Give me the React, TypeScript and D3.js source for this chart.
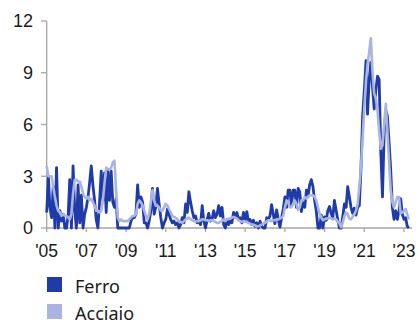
import React from "react";
import * as d3 from "d3";

// Monthly series, January 2005 onward
const ferro: number[] = [
  0.9, 3.0, 1.2, 0.6, 2.4, 0.0, 3.5, 0.0, 1.0, 0.4, 0.8, 0.0,
  0.0, 0.8, 2.8, 0.0, 3.6, 1.0, 0.0, 2.5, 0.3, 1.9, 0.0, 0.8,
  1.2, 1.8, 2.6, 3.6, 2.5, 1.6, 0.5, 0.0, 1.5, 3.3, 1.6, 3.2,
  0.9, 3.3, 1.6, 3.3, 1.5, 1.2, 1.7, 0.0, 0.0, 0.0, 0.0, 0.0,
  0.0, 0.0, 0.0, 0.4, 0.6, 0.6, 0.8, 2.5, 1.2, 1.8, 1.5, 0.3,
  0.3, 0.0, 0.4, 1.0, 2.3, 0.8, 1.2, 2.3, 1.4, 0.6, 0.0, 0.3,
  0.5, 1.1, 0.8, 0.5, 0.3, 0.4, 0.2, 0.3, 0.0, 0.2, 0.6, 0.3,
  1.4, 0.9, 2.1, 1.5, 1.0, 0.6, 0.7, 0.3, 0.4, 0.2, 1.3, 0.4,
  0.0, 0.5, 0.85, 0.4, 0.5, 1.0, 0.6, 0.8, 1.3, 0.7, 1.2, 0.2,
  0.0, 0.5, 0.2, 0.4, 0.3, 0.9, 0.6, 0.9, 0.5, 0.6, 0.3, 0.9,
  0.5, 0.95, 0.35, 0.5, 0.2, 0.45, 0.1, 0.3, 0.0, 0.4, 0.1, 0.0,
  0.0, 0.6, 0.5, 0.7, 1.35, 0.8, 0.25, 1.05, 0.5, 0.05, 0.6, 1.1,
  1.8, 1.2, 2.2, 2.2, 1.3, 2.2, 2.2, 1.2, 2.3, 2.1, 0.95, 1.6,
  1.2, 2.2, 1.8, 2.5, 2.8, 2.4, 1.6, 1.0, 0.0, 0.0, 0.75, 0.0,
  0.65, 0.45, 1.0, 1.25, 0.85, 0.6, 1.6, 1.05, 0.45, 0.0, 0.0, 0.65,
  1.4, 1.2, 2.4, 1.8, 1.2, 0.85, 1.15, 0.75, 1.2, 1.3, 3.5, 6.5,
  8.0, 9.7, 6.6, 8.6, 9.6, 8.2, 6.9, 8.0, 8.8, 8.6, 4.3, 1.8,
  5.5, 6.8, 6.5, 5.0, 3.4, 1.2, 0.5, 1.0, 0.5, 1.0, 1.7, 0.8,
  0.5, 0.6, 0.1, 0.0,
];

const acciaio: number[] = [
  3.6, 3.0, 3.0, 3.0, 2.4, 1.8, 1.3, 1.0, 0.9, 0.7, 0.8, 0.7,
  0.7, 0.6, 0.5, 0.8, 2.0, 2.8, 2.8, 2.7, 2.7, 2.4, 2.0, 1.8,
  1.7, 1.8, 1.6, 1.7, 1.5, 1.3, 1.0, 1.0, 0.9, 1.0, 1.6, 2.6,
  3.5, 3.4, 3.4, 3.5, 3.8, 3.9, 2.2, 0.6, 0.4, 0.5, 0.4, 0.4,
  0.4, 0.4, 0.5, 0.6, 0.7, 0.7, 0.8, 1.4, 1.6, 1.5, 1.3, 1.0,
  0.7, 0.5, 0.8, 1.5, 2.2, 1.6, 1.3, 1.3, 1.2, 1.0, 1.0, 1.2,
  1.4, 1.3, 1.1, 0.9, 0.7, 0.65, 0.6, 0.5, 0.4, 0.35, 0.3, 0.4,
  0.5, 0.55, 0.6, 0.5, 0.45, 0.4, 0.35, 0.4, 0.4, 0.45, 0.5, 0.5,
  0.45, 0.45, 0.4, 0.45, 0.45, 0.4, 0.35, 0.3, 0.3, 0.35, 0.4, 0.5,
  0.4, 0.5, 0.55, 0.55, 0.6, 0.65, 0.6, 0.55, 0.45, 0.4, 0.35, 0.4,
  0.35, 0.35, 0.3, 0.25, 0.2, 0.2, 0.15, 0.1, 0.1, 0.15, 0.2, 0.25,
  0.3, 0.4, 0.45, 0.45, 0.4, 0.45, 0.45, 0.5, 0.5, 0.55, 0.6, 0.7,
  1.2, 1.6, 1.5, 1.2, 1.2, 1.4, 1.6, 1.4, 1.05, 1.2, 1.6, 1.6,
  1.8, 1.7, 1.8, 1.9, 1.9, 1.9, 1.8, 1.6, 1.2, 0.85, 0.6, 0.45,
  0.5, 0.55, 0.55, 0.6, 0.55, 0.5, 0.55, 0.5, 0.35, 0.25, 0.05, 0.3,
  0.7, 0.9, 0.8, 0.55, 0.5, 0.65, 0.8, 1.0, 1.4, 2.4, 3.6, 5.2,
  7.0, 8.5, 9.5, 10.2, 11.0, 9.0, 7.8, 7.5, 6.8, 5.6, 4.6, 4.8,
  6.0, 7.2, 5.6, 3.9, 2.2, 1.5, 1.2, 1.5, 1.8, 1.8, 0.85, 0.9,
  1.0, 1.1, 0.8, 0.5,
];

const yTicks = [0, 3, 6, 9, 12];
const xTickYears = [2005, 2007, 2009, 2011, 2013, 2015, 2017, 2019, 2021, 2023];

const seriesNames = ["Ferro", "Acciaio"];
const seriesColors = ["#1f3aa9", "#a9b5e0"];

const W = 417;
const H = 326;

const months = ferro.map((_, i) => new Date(2005, i, 1));

export default function App() {
  const x = d3
    .scaleTime()
    .domain([new Date(2005, 0, 1), new Date(2023, 0, 1)])
    .range([46.7, 404]);
  const y = d3.scaleLinear().domain([0, 12]).range([228, 21]);

  const line = d3
    .line<number>()
    .x((_, i) => x(months[i]))
    .y((d) => y(d));

  const axisColor = "#a6a6a6";
  const axisFont = "Arial, 'Liberation Sans', sans-serif";

  return (
    <div style={{ position: "fixed", left: 0, top: 0 }}>
      <svg width={W} height={H} style={{ display: "block", background: "#fff" }}>
        {/* y axis */}
        <line x1={x(months[0])} x2={x(months[0])} y1={y(12)} y2={y(0)} stroke={axisColor} strokeWidth={1.3} />
        {yTicks.map((t) => (
          <g key={t}>
            <line x1={41} x2={46.7} y1={y(t)} y2={y(t)} stroke={axisColor} strokeWidth={1.3} />
            <text x={33} y={y(t)} dy="0.36em" textAnchor="end" fontFamily={axisFont} fontSize={18} fill="#1a1a1a">
              {t}
            </text>
          </g>
        ))}
        {/* x axis */}
        <line x1={46.7} x2={412} y1={y(0)} y2={y(0)} stroke={axisColor} strokeWidth={1.3} />
        {xTickYears.map((yr) => {
          const px = x(new Date(yr, 0, 1));
          return (
            <g key={yr}>
              <line x1={px} x2={px} y1={y(0)} y2={y(0) + 4} stroke={axisColor} strokeWidth={1.3} />
              <text x={px} y={257} textAnchor="middle" fontFamily={axisFont} fontSize={17.5} fill="#1a1a1a">
                {"'" + String(yr % 100).padStart(2, "0")}
              </text>
            </g>
          );
        })}
        {/* series */}
        <path d={line(ferro) ?? ""} fill="none" stroke={seriesColors[0]} strokeWidth={2.8} strokeLinejoin="round" />
        <path d={line(acciaio) ?? ""} fill="none" stroke={seriesColors[1]} strokeWidth={2.6} strokeLinejoin="round" />
        {/* legend */}
        {seriesNames.map((name, i) => (
          <g key={name} transform={`translate(47, ${277 + i * 27})`}>
            <rect x={0} y={0} width={15} height={15} fill={seriesColors[i]} />
            <text x={28} y={16} fontFamily="'Noto Sans', sans-serif" fontSize={18} fill="#1a1a1a">
              {name}
            </text>
          </g>
        ))}
      </svg>
    </div>
  );
}
